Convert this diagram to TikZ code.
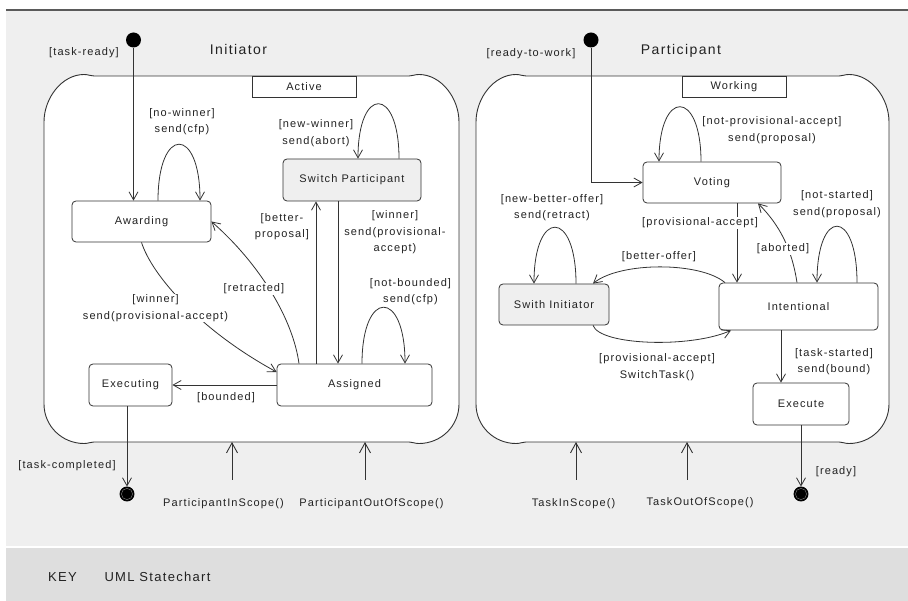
\documentclass[tikz,border=0pt]{standalone}
\usepackage{fontspec}
\setmainfont{Liberation Sans}[LetterSpace=10]
\usetikzlibrary{arrows.meta,calc}
\definecolor{panel}{HTML}{EFEFEF}
\definecolor{band}{HTML}{DEDEDE}
\definecolor{ink}{HTML}{333333}
\definecolor{txt}{HTML}{222222}
\definecolor{shade}{HTML}{EFEFEF}
\definecolor{rule}{HTML}{5A5A5A}
\newcommand\drawsuper[4]{%
  \draw[draw=ink, line width=0.9pt, fill=white]
    (#1+50,#2) -- (#3-50,#2)
    .. controls (#3-46,#2) and (#3-45,#2-1.5) .. (#3-40,#2-1.5)
    .. controls (#3-18,#2-1.5) and (#3,#2+22) .. (#3,#2+46)
    -- (#3,#4-38)
    .. controls (#3,#4-16) and (#3-18,#4+1.5) .. (#3-40,#4+1.5)
    .. controls (#3-45,#4+1.5) and (#3-46,#4) .. (#3-50,#4)
    -- (#1+50,#4)
    .. controls (#1+46,#4) and (#1+45,#4+1.5) .. (#1+40,#4+1.5)
    .. controls (#1+18,#4+1.5) and (#1,#4-16) .. (#1,#4-38)
    -- (#1,#2+46)
    .. controls (#1,#2+22) and (#1+18,#2-1.5) .. (#1+40,#2-1.5)
    .. controls (#1+45,#2-1.5) and (#1+46,#2) .. cycle;}
\begin{document}
\begin{tikzpicture}[x=1pt,y=-1pt,
  every node/.style={text=txt, font=\fontsize{11}{16.5}\selectfont},
  st/.style={draw=ink, line width=0.8pt, rounded corners=4pt, fill=white, inner sep=0pt},
  greyst/.style={st, fill=shade},
  tab/.style={draw=ink, line width=0.8pt, fill=white, inner sep=0pt, minimum width=104pt, minimum height=21pt},
  conn/.style={draw=ink, line width=0.8pt, -{Straight Barb[length=8pt,width=9pt]}},
  ev/.style={draw=ink, line width=0.9pt, -{Straight Barb[length=10pt,width=11pt]}},
  lbl/.style={fill=white, inner sep=1pt, align=center},
  olbl/.style={inner sep=1pt, align=center},
  big/.style={font=\fontsize{14}{16}\selectfont},
  keyf/.style={font=\fontsize{13}{15}\selectfont},
  initst/.style={circle, fill=black, minimum size=15pt, inner sep=0pt},
  finst/.style={circle, draw=black, line width=0.9pt, fill=black, minimum size=14pt, inner sep=0pt}
]
\useasboundingbox (0,0) rectangle (908,601);
\fill[white] (0,0) rectangle (908,601);
\fill[panel] (6,10) rectangle (908,546);
\fill[band] (6,548) rectangle (908,601);
\draw[rule, line width=1.6pt] (6,10) -- (908,10);

% superstates
\drawsuper{44}{76}{459}{442}
\drawsuper{476}{76}{889}{442}
\node[tab] (act) at (304,86.5) {Active};
\node[tab] (wrk) at (734,86.5) {Working};

% titles
\node[big] (tinit) at (238.5,50) {Initiator};
\node[big] (tpart) at (681,51) {Participant};

% pseudo states
\node[initst] (i1) at (133.5,40) {};
\node[initst] (i2) at (591,40) {};
\node[finst] (f1) at (127,494) {};
\node[finst] (f2) at (801,494) {};
\draw[gray, line width=0.4pt] (f1) circle (5.6);
\draw[gray, line width=0.4pt] (f2) circle (5.6);

% states (initiator)
\node[st, minimum width=139pt, minimum height=41pt] (aw) at (141.5,221.5) {Awarding};
\node[greyst, minimum width=138pt, minimum height=42pt] (sp) at (352,180) {Switch Participant};
\node[st, minimum width=155pt, minimum height=42pt] (as) at (354.5,385) {Assigned};
\node[st, minimum width=83pt, minimum height=42pt] (ex) at (130.5,385) {Executing};

% states (participant)
\node[st, minimum width=138pt, minimum height=41pt] (vot) at (712,182.5) {Voting};
\node[st, minimum width=159pt, minimum height=47pt] (int) at (798.5,306.5) {Intentional};
\node[greyst, minimum width=110pt, minimum height=41pt] (swi) at (554,304.5) {Swith Initiator};
\node[st, minimum width=96pt, minimum height=42pt] (exe) at (801,404) {Execute};

% connectors (initiator)
\draw[conn] (i1) -- (i1 |- aw.north);
\draw[conn] ([xshift=16.5pt]aw.north) .. controls +(0,-75) and +(0,-75) .. ([xshift=58.5pt]aw.north);
\draw[conn] ([xshift=47pt]sp.north) .. controls +(0,-73) and +(0,-73) .. ([xshift=6pt]sp.north);
\draw[conn] ([xshift=7.5pt]as.north) .. controls +(0,-75) and +(0,-75) .. ([xshift=50.5pt]as.north);
\draw[conn] (as.west) -- (ex.east);
\draw[conn] ([xshift=-3.5pt]ex.south) -- (f1);
\draw[conn] ([xshift=-38.5pt]as.north) -- ([xshift=-38.5pt]as.north |- sp.south);
\draw[conn] ([xshift=-14pt]sp.south) -- ([xshift=-14pt]sp.south |- as.north);
\draw[conn] (aw.south) .. controls +(10.5,33) and +(-77,-42) .. ([yshift=13pt]as.west);
\draw[conn] ([xshift=-55.5pt]as.north) .. controls +(-6,-44) and +(49,43) .. (aw.east);

% connectors (participant)
\draw[conn] (i2) |- (vot.west);
\draw[conn] ([xshift=-11pt]vot.north) .. controls +(0,-73) and +(0,-73) .. ([xshift=-53pt]vot.north);
\draw[conn] ([xshift=58.5pt]int.north) .. controls +(0,-75) and +(0,-75) .. ([xshift=18.5pt]int.north);
\draw[conn] ([xshift=22pt]swi.north) .. controls +(0,-75) and +(0,-75) .. ([xshift=-20pt]swi.north);
\draw[conn] ([xshift=25pt]vot.south) -- ([xshift=25pt]vot.south |- int.north);
\draw[conn] ([xshift=-17.5pt]int.south) -- ([xshift=-17.5pt]int.south |- exe.north);
\draw[conn] (exe.south) -- (f2);
\draw[conn] ([xshift=-1.5pt]int.north) .. controls +(-5,-33) and +(22,22) .. ([xshift=46pt]vot.south);
\draw[conn] ([xshift=-73.5pt]int.north) .. controls +(-25,-21) and +(27,-22) .. ([xshift=39pt]swi.north);
\draw[conn] ([xshift=39pt]swi.south) .. controls +(7,20) and +(-41,18) .. ([xshift=-67.5pt]int.south);

% external events
\coordinate (e1a) at (232,480); \coordinate (e1b) at (232,442);
\coordinate (e2a) at (365,480); \coordinate (e2b) at (365,442);
\coordinate (e3a) at (576,480); \coordinate (e3b) at (576,442);
\coordinate (e4a) at (687,480); \coordinate (e4b) at (687,442);
\draw[ev] (e1a) -- (e1b);
\draw[ev] (e2a) -- (e2b);
\draw[ev] (e3a) -- (e3b);
\draw[ev] (e4a) -- (e4b);

% labels (initiator)
\node[olbl] (l1) at (84,53) {[task-ready]};
\node[lbl] (l2) at (182,121.5) {[no-winner]\\send(cfp)};
\node[lbl] (l3) at (316,133) {[new-winner]\\send(abort)};
\node[lbl] (l4) at (282,226.5) {[better-\\proposal]};
\node[lbl] (l5) at (395,232.5) {[winner]\\send(provisional-\\accept)};
\node[lbl] (l6) at (155.5,308) {[winner]\\send(provisional-accept)};
\node[lbl] (l7) at (254,289) {[retracted]};
\node[lbl] (l8) at (410.5,291.5) {[not-bounded]\\send(cfp)};
\node[lbl] (l9) at (226,398) {[bounded]};
\node[olbl] (l10) at (67,466) {[task-completed]};
\node[olbl] (l11) at (223.5,504) {ParticipantInScope()};
\node[olbl] (l12) at (371.5,504) {ParticipantOutOfScope()};

% labels (participant)
\node[olbl] (m1) at (531,54) {[ready-to-work]};
\node[lbl] (m2) at (772,130) {[not-provisional-accept]\\send(proposal)};
\node[lbl] (m3) at (552,207.5) {[new-better-offer]\\send(retract)};
\node[lbl] (m4) at (700,223) {[provisional-accept]};
\node[lbl] (m5) at (837,204) {[not-started]\\send(proposal)};
\node[lbl] (m6) at (783,249) {[aborted]};
\node[lbl] (m7) at (659,257) {[better-offer]};
\node[lbl] (m8) at (657,367) {[provisional-accept]\\SwitchTask()};
\node[lbl] (m9) at (834,361.5) {[task-started]\\send(bound)};
\node[olbl] (m10) at (836,472) {[ready]};
\node[olbl] (m11) at (573.5,504) {TaskInScope()};
\node[olbl] (m12) at (700,503) {TaskOutOfScope()};

% key
\node[keyf] (k1) at (62.5,577) {KEY};
\node[keyf] (k2) at (157.5,577) {UML Statechart};
\end{tikzpicture}
\end{document}
